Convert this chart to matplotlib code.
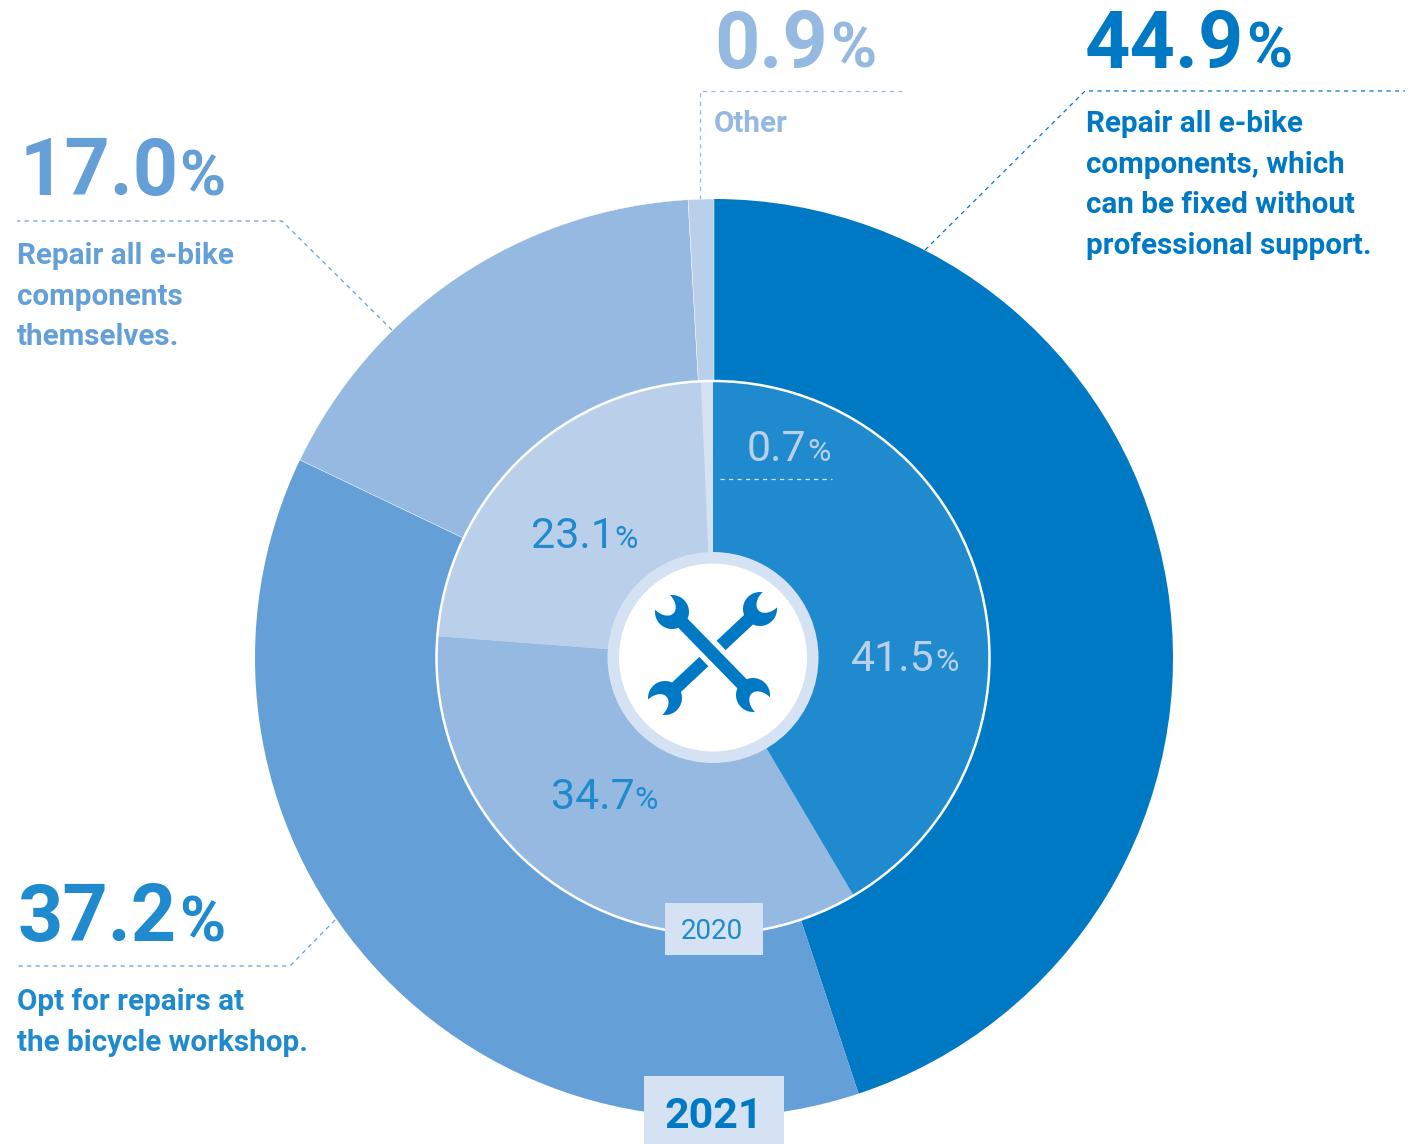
import numpy as np
import matplotlib
matplotlib.use("Agg")
import matplotlib.pyplot as plt
from matplotlib.patches import Circle, PathPatch, Rectangle
from matplotlib.path import Path

# Share of answers per repair behaviour, clockwise from twelve o'clock
categories = ["All fixable components", "Bicycle workshop", "All components", "Other"]
values_2021 = [44.9, 37.2, 17.0, 0.9]
values_2020 = [41.5, 34.7, 23.1, 0.7]
colors_2021 = ["#0079C4", "#64A0D7", "#95B9E1", "#B9CFEA"]
colors_2020 = ["#1F8BCE", "#95B9E1", "#B9CFEA", "#D4E2F3"]

WIDTH, HEIGHT = 1411, 1144
plt.rcParams["font.family"] = ["Roboto", "DejaVu Sans"]

fig = plt.figure(figsize=(WIDTH / 100, HEIGHT / 100), dpi=100)
ax = fig.add_axes([0, 0, 1, 1])


def py(y):
    """Convert a distance from the top edge to the upward y axis."""
    return HEIGHT - y


outer_center = (714, py(658))
inner_center = (713, py(657.5))
outer_wedges, _ = ax.pie(values_2021, colors=colors_2021, radius=459, center=outer_center,
                         startangle=90, counterclock=False, normalize=True, frame=True)
# Hairline separators only around the two lightest outer segments
for wedge in outer_wedges[2:]:
    wedge.set_edgecolor("#FFFFFF")
    wedge.set_linewidth(0.3)
ax.pie(values_2020, colors=colors_2020, radius=276.5, center=inner_center, startangle=90,
       counterclock=False, normalize=True, frame=True)
ax.set_xlim(0, WIDTH)
ax.set_ylim(0, HEIGHT)
ax.axis("off")
ax.add_patch(Circle(inner_center, 276.5, fc="none", ec="#FFFFFF", lw=1.8, zorder=3))
ax.add_patch(Circle(inner_center, 105.5, fc="#D4E2F3", ec="none", zorder=4))
ax.add_patch(Circle(inner_center, 94, fc="#FFFFFF", ec="none", zorder=5))


def wrench_path(head_a, head_b, radius=17.0, half_width=6.5):
    """Double open-ended spanner outline between two head centres."""
    a = np.array([head_a[0], py(head_a[1])], float)
    b = np.array([head_b[0], py(head_b[1])], float)
    length = np.hypot(*(b - a))
    phi = np.radians(38)
    tip_x, tip_y = -radius * np.cos(phi), radius * np.sin(phi)

    start = np.arcsin(half_width / radius)
    outer = np.linspace(start, np.pi - phi, 24)
    upper = np.c_[radius * np.cos(outer), radius * np.sin(outer)]
    t = np.linspace(0, 1, 24)
    bite = np.c_[tip_x + (2.0 - tip_x) * np.sin(t * np.pi), tip_y * np.cos(t * np.pi)]
    lower = upper[::-1] * [1, -1]
    first = np.vstack([upper, bite, lower])
    second = first * [-1, -1] + [length, 0]

    pts = np.vstack([first, second])
    direction = (b - a) / length
    normal = np.array([-direction[1], direction[0]])
    world = a + pts[:, :1] * direction + pts[:, 1:] * normal
    return Path(np.vstack([world, world[0]]), closed=True), a, b


ICON = "#0079C4"
under, _, _ = wrench_path((665, 698), (760, 609))
ax.add_patch(PathPatch(under, fc=ICON, ec="none", zorder=6))
over, a, b = wrench_path((672, 612), (753, 695))
ax.plot([a[0] + 30, b[0] - 30], [a[1] - 30.5, b[1] + 30.5], color="#FFFFFF", lw=17,
        solid_capstyle="butt", zorder=6.5)
ax.add_patch(PathPatch(over, fc=ICON, ec="none", zorder=7))


def leader(xs, ys, color, lw=0.9):
    ax.plot(xs, [py(v) for v in ys], color=color, lw=lw, ls=(0, (3.4, 3.4)), zorder=8)


leader([925, 1085, 1405], [250, 91, 91], "#0079C4")
leader([700, 700, 902], [199, 91, 91], "#95B9E1")
leader([392, 282, 17], [330, 221, 221], "#64A0D7")
leader([335, 290, 17], [920, 966, 966], "#64A0D7")
leader([720, 832], [479, 479], "#D4E2F3")


def figure_label(x, base, number, pct_x, color, size, pct_size, weight="bold"):
    ax.text(x, py(base), number, color=color, fontsize=size, fontweight=weight,
            ha="left", va="baseline", zorder=9)
    ax.text(pct_x, py(base), "%", color=color, fontsize=pct_size, fontweight=weight,
            ha="left", va="baseline", zorder=9)


def note(x, first_base, lines, color):
    for i, line in enumerate(lines):
        ax.text(x, py(first_base + i * 40.7), line, color=color, fontsize=21.3,
                fontweight="bold", ha="left", va="baseline", zorder=9)


# Headline figures for 2021
figure_label(1085, 68, f"{values_2021[0]:.1f}", 1246, "#0079C4", 57, 45)
figure_label(714, 68, f"{values_2021[3]:.1f}", 830, "#95B9E1", 57, 45)
figure_label(20, 195, f"{values_2021[2]:.1f}", 179, "#64A0D7", 57, 45)
figure_label(18, 941, f"{values_2021[1]:.1f}", 179, "#1F8BCE", 57, 45)

note(1086, 132, ["Repair all e-bike", "components, which", "can be fixed without",
                 "professional support."], "#0079C4")
note(714, 132, ["Other"], "#95B9E1")
note(17, 264, ["Repair all e-bike", "components", "themselves."], "#64A0D7")
note(17, 1010, ["Opt for repairs at", "the bicycle workshop."], "#1F8BCE")

# Figures for 2020 on the inner ring
figure_label(851, 671, f"{values_2020[0]:.1f}", 935, "#B9CFEA", 31, 23, "normal")
figure_label(747, 461, f"{values_2020[3]:.1f}", 807, "#B9CFEA", 31, 23, "normal")
figure_label(531, 548, f"{values_2020[2]:.1f}", 614, "#1F8BCE", 31, 23, "normal")
figure_label(551, 809, f"{values_2020[1]:.1f}", 634, "#1F8BCE", 31, 23, "normal")

# Year tags
ax.add_patch(Rectangle((665, py(955)), 98, 52, fc="#D4E2F3", ec="none", zorder=8))
ax.text(712, py(939), "2020", color="#1F8BCE", fontsize=20, ha="center",
        va="baseline", zorder=9)
ax.add_patch(Rectangle((644, py(1144)), 140, 68, fc="#D4E2F3", ec="none", zorder=8))
ax.text(714, py(1128), "2021", color="#0079C4", fontsize=31, fontweight="bold",
        ha="center", va="baseline", zorder=9)

fig.savefig("out.png", dpi=100, facecolor="#FFFFFF")
